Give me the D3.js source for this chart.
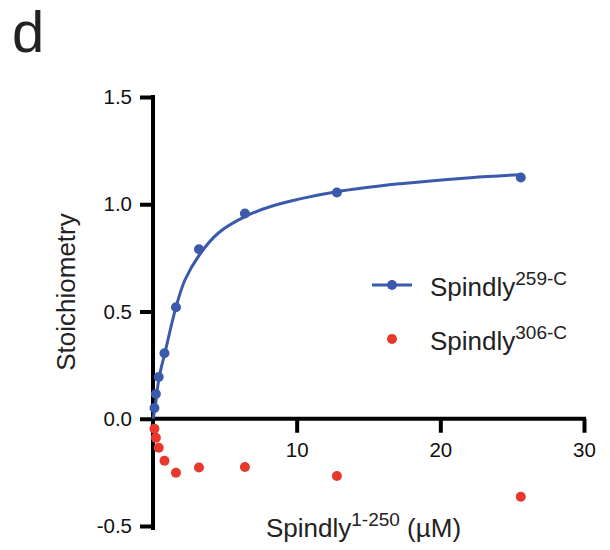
<!doctype html>
<html lang="en">
	<head>
		<meta charset="utf-8">
		<title>Spindly stoichiometry</title>
		<script src="https://cdn.jsdelivr.net/npm/d3@7"></script>
		<style>
			body { margin: 0; background: #fff; }
			svg { display: block; font-family: "Liberation Sans", Arial, sans-serif; }
		</style>
	</head>
	<body>
		<svg id="chart" width="610" height="550"></svg>

		<script>
			// concentration of Spindly 1-250 (uM)
			var conc = [0.1, 0.2, 0.4, 0.8, 1.6, 3.2, 6.4, 12.8, 25.6];
			var s259 = [0.05, 0.115, 0.195, 0.305, 0.52, 0.79, 0.957, 1.055, 1.125];
			var s306 = [-0.047, -0.089, -0.135, -0.196, -0.252, -0.227, -0.225, -0.267, -0.364];

			// fitted curve for 259-C
			var fitX = [0, 0.14, 0.42, 0.84, 1.6, 2.23, 3.27, 4.55, 6.4, 8.3, 12.8, 17.4, 22.1, 25.6];
			var fitY = [0, 0.05, 0.19, 0.31, 0.52, 0.648, 0.768, 0.866, 0.942, 0.992, 1.058, 1.097, 1.124, 1.138];

			var xTicks = [10, 20, 30];
			var yTicks = [-0.5, 0.0, 0.5, 1.0, 1.5];

			var blue = '#3b5aab';
			var red = '#e8382b';

			var svg = d3.select('#chart');

			var x = d3.scaleLinear().domain([0, 30]).range([153, 584]);
			var y = d3.scaleLinear().domain([-0.5, 1.5]).range([526, 97]);

			// plain hyphen for negatives, like the original
			var fmt = function(d) { return d.toFixed(1); };

			// panel letter
			svg.append('text')
				.attr('x', 12).attr('y', 52)
				.attr('font-size', 58)
				.attr('fill', '#222')
				.text('d');

			// y axis
			var yAxis = svg.append('g')
				.attr('transform', 'translate(' + x(0) + ',0)')
				.call(d3.axisLeft(y).tickValues(yTicks).tickFormat(fmt).tickSize(13).tickSizeOuter(0).tickPadding(8));
			yAxis.select('.domain').attr('stroke', '#000').attr('stroke-width', 4)
				.attr('d', 'M0,' + (y(1.5) - 2) + 'V' + (y(-0.5) + 4));
			yAxis.selectAll('.tick line').attr('stroke', '#000').attr('stroke-width', 4);
			yAxis.selectAll('.tick text').attr('font-size', 20.5).attr('fill', '#111')
				.attr('font-family', '"Liberation Sans", Arial, sans-serif');

			// x axis sits on y = 0
			var xAxis = svg.append('g')
				.attr('transform', 'translate(0,' + y(0) + ')')
				.call(d3.axisBottom(x).tickValues(xTicks).tickSize(14).tickSizeOuter(0).tickPadding(10));
			xAxis.select('.domain').attr('stroke', '#000').attr('stroke-width', 4)
				.attr('d', 'M' + (x(0) - 2) + ',0H' + (x(30) + 2));
			xAxis.selectAll('.tick line').attr('stroke', '#000').attr('stroke-width', 4);
			xAxis.selectAll('.tick text').attr('font-size', 20.5).attr('fill', '#111')
				.attr('font-family', '"Liberation Sans", Arial, sans-serif');

			// axis titles
			svg.append('text')
				.attr('transform', 'translate(75,292) rotate(-90)')
				.attr('text-anchor', 'middle')
				.attr('font-size', 26)
				.attr('fill', '#222')
				.text('Stoichiometry');

			var xt = svg.append('text')
				.attr('x', 266).attr('y', 537)
				.attr('font-size', 26)
				.attr('fill', '#222');
			xt.append('tspan').text('Spindly');
			xt.append('tspan').attr('font-size', 19).attr('dy', -11).text('1-250');
			xt.append('tspan').attr('dy', 11).text(' (µM)');

			// fit line
			var fit = fitX.map(function(d, i) { return [d, fitY[i]]; });
			var line = d3.line()
				.x(function(d) { return x(d[0]); })
				.y(function(d) { return y(d[1]); })
				.curve(d3.curveCatmullRom.alpha(0.5));
			svg.append('path')
				.datum(fit)
				.attr('d', line)
				.attr('fill', 'none')
				.attr('stroke', blue)
				.attr('stroke-width', 3);

			svg.append('g').selectAll('circle')
				.data(conc)
				.enter()
				.append('circle')
				.attr('cx', function(d) { return x(d); })
				.attr('cy', function(d, i) { return y(s259[i]); })
				.attr('r', 5)
				.attr('fill', blue);

			svg.append('g').selectAll('circle')
				.data(conc)
				.enter()
				.append('circle')
				.attr('cx', function(d) { return x(d); })
				.attr('cy', function(d, i) { return y(s306[i]); })
				.attr('r', 5)
				.attr('fill', red);

			// legend
			var legend = [
				{ name: 'Spindly', sup: '259-C', color: blue, line: true },
				{ name: 'Spindly', sup: '306-C', color: red, line: false }
			];
			var lg = svg.append('g').selectAll('g')
				.data(legend)
				.enter()
				.append('g')
				.attr('transform', function(d, i) { return 'translate(392,' + (285 + i * 54) + ')'; });
			lg.filter(function(d) { return d.line; })
				.append('line')
				.attr('x1', -20).attr('x2', 20)
				.attr('stroke', function(d) { return d.color; })
				.attr('stroke-width', 3);
			lg.append('circle')
				.attr('r', 5)
				.attr('fill', function(d) { return d.color; });
			var lt = lg.append('text')
				.attr('x', 38).attr('y', 11)
				.attr('font-size', 26)
				.attr('fill', '#222');
			lt.append('tspan').text(function(d) { return d.name; });
			lt.append('tspan').attr('font-size', 19).attr('dy', -11).text(function(d) { return d.sup; });
		</script>
	</body>
</html>
